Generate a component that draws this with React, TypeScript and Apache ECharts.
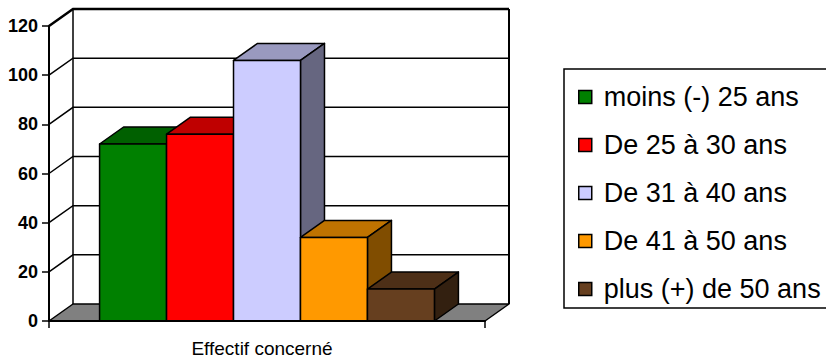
import React, { useEffect, useRef } from "react";
import * as echarts from "echarts";

// Data
const categories = ["Effectif concerné"];
const groups = [
  "moins (-) 25 ans",
  "De 25 à 30 ans",
  "De 31 à 40 ans",
  "De 41 à 50 ans",
  "plus (+) de 50 ans",
];
const counts = [72, 76, 106, 34, 13];
const yTicks = [0, 20, 40, 60, 80, 100, 120];
const frontColors = ["#008000", "#FF0000", "#CCCCFF", "#FF9900", "#663F1F"];

// Styling constants for the pseudo-3D look
const DEPTH_X = 24;
const DEPTH_Y = -17;
const BAR_SPAN = 0.768; // share of the category band filled by the bar cluster
const FONT = "'Liberation Sans', Arial, sans-serif";

function shade(hex: string, f: number): string {
  const n = parseInt(hex.slice(1), 16);
  const r = Math.round(((n >> 16) & 255) * f);
  const g = Math.round(((n >> 8) & 255) * f);
  const b = Math.round((n & 255) * f);
  return "#" + [r, g, b].map((c) => c.toString(16).padStart(2, "0")).join("");
}

function wallRenderItem(_params: any, api: any) {
  const yMax = yTicks[yTicks.length - 1];
  const band = api.size([1, 0])[0];
  const [cx, y0] = api.coord([0, 0]);
  const [, yTop] = api.coord([0, yMax]);
  const xl = cx - band / 2;
  const xr = cx + band / 2;
  const children: any[] = [
    {
      type: "polygon",
      shape: { points: [[xl, yTop], [xl + DEPTH_X, yTop + DEPTH_Y], [xl + DEPTH_X, y0 + DEPTH_Y], [xl, y0]] },
      style: { fill: "#fff", stroke: null },
    },
    {
      type: "rect",
      shape: { x: xl + DEPTH_X, y: yTop + DEPTH_Y, width: xr - xl, height: y0 - yTop },
      style: { fill: "#fff", stroke: null },
    },
    {
      type: "polygon",
      shape: { points: [[xl, y0], [xl + DEPTH_X, y0 + DEPTH_Y], [xr + DEPTH_X, y0 + DEPTH_Y], [xr, y0]] },
      style: { fill: "#808080", stroke: "#000", lineWidth: 1.5, lineJoin: "round" },
    },
  ];
  yTicks.forEach((t) => {
    if (t === 0) return;
    const [, yt] = api.coord([0, t]);
    children.push({
      type: "polyline",
      shape: { points: [[xl, yt], [xl + DEPTH_X, yt + DEPTH_Y], [xr + DEPTH_X, yt + DEPTH_Y]] },
      style: { fill: null, stroke: "#000", lineWidth: t === yMax ? 2.5 : 1.5 },
    });
  });
  children.push(
    {
      type: "line",
      shape: { x1: xl + DEPTH_X, y1: yTop + DEPTH_Y, x2: xl + DEPTH_X, y2: y0 + DEPTH_Y },
      style: { stroke: "#000", lineWidth: 1.5 },
    },
    {
      type: "line",
      shape: { x1: xr + DEPTH_X, y1: yTop + DEPTH_Y, x2: xr + DEPTH_X, y2: y0 + DEPTH_Y },
      style: { stroke: "#000", lineWidth: 2 },
    }
  );
  return { type: "group", children };
}

function makeBarRenderItem(i: number) {
  const front = frontColors[i];
  const top = shade(front, 0.75);
  const side = shade(front, 0.5);
  return (_params: any, api: any) => {
    const v = api.value(1);
    const [cx, yv] = api.coord([api.value(0), v]);
    const [, yb] = api.coord([api.value(0), 0]);
    const band = api.size([1, 0])[0];
    const barW = (band * BAR_SPAN) / groups.length;
    const x0 = cx - (band * BAR_SPAN) / 2 + i * barW;
    const x1 = x0 + barW;
    const edge = { stroke: "#000", lineWidth: 1.5, lineJoin: "round" };
    return {
      type: "group",
      children: [
        {
          type: "polygon",
          shape: { points: [[x0, yv], [x0 + DEPTH_X, yv + DEPTH_Y], [x1 + DEPTH_X, yv + DEPTH_Y], [x1, yv]] },
          style: { fill: top, ...edge },
        },
        {
          type: "polygon",
          shape: { points: [[x1, yv], [x1 + DEPTH_X, yv + DEPTH_Y], [x1 + DEPTH_X, yb + DEPTH_Y], [x1, yb]] },
          style: { fill: side, ...edge },
        },
        {
          type: "rect",
          shape: { x: x0, y: yv, width: barW, height: yb - yv },
          style: { fill: front, ...edge },
        },
      ],
    };
  };
}

export default function App() {
  const ref = useRef<HTMLDivElement>(null);

  useEffect(() => {
    if (!ref.current) return;
    const chart = echarts.init(ref.current, undefined, { renderer: "svg" });

    const barSeries = groups.map((name, i) => ({
      type: "custom",
      name,
      coordinateSystem: "cartesian2d",
      clip: false,
      z: 3,
      itemStyle: { color: frontColors[i] },
      data: [[0, counts[i]]],
      renderItem: makeBarRenderItem(i),
    }));

    chart.setOption({
      animation: false,
      backgroundColor: "#fff",
      grid: { left: 49, right: 341, top: 26, bottom: 41, containLabel: false },
      // legend frame, running past the right edge of the canvas
      graphic: [
        {
          type: "rect",
          silent: true,
          z: 0,
          shape: { x: 564, y: 69, width: 300, height: 239 },
          style: { fill: "#fff", stroke: "#000", lineWidth: 1.5 },
        },
      ],
      xAxis: {
        type: "category",
        data: categories,
        z: 5,
        axisLine: { show: true, lineStyle: { color: "#000", width: 2 } },
        axisTick: { show: true, length: 7, lineStyle: { color: "#000", width: 1.5 } },
        axisLabel: {
          margin: 18,
          fontSize: 19,
          color: "#000",
          fontFamily: FONT,
          padding: [0, 10, 0, 0],
        },
        splitLine: { show: false },
      },
      yAxis: {
        type: "value",
        min: 0,
        max: 120,
        interval: 20,
        z: 5,
        axisLine: { show: true, lineStyle: { color: "#000", width: 2 } },
        axisTick: { show: true, length: 7, lineStyle: { color: "#000", width: 1.5 } },
        axisLabel: { margin: 11, fontSize: 18, fontWeight: "bold", color: "#000", fontFamily: FONT },
        splitLine: { show: false },
      },
      legend: {
        data: groups,
        orient: "vertical",
        left: 564,
        top: 69,
        padding: [14.5, 10, 6, 14],
        itemGap: 21,
        itemWidth: 13,
        itemHeight: 13,
        icon: "rect",
        selectedMode: false,
        itemStyle: { borderColor: "#000", borderWidth: 1.5 },
        borderWidth: 0,
        z: 4,
        textStyle: {
          fontFamily: FONT,
          fontSize: 27,
          lineHeight: 27,
          color: "#000",
          padding: [0, 0, 0, 7],
        },
      },
      series: [
        {
          type: "custom",
          name: "wall",
          coordinateSystem: "cartesian2d",
          clip: false,
          silent: true,
          z: 1,
          data: [[0, 0]],
          renderItem: wallRenderItem,
        },
        ...barSeries,
      ],
    });

    return () => chart.dispose();
  }, []);

  return (
    <div
      ref={ref}
      style={{ position: "fixed", left: 0, top: 0, width: 826, height: 362, background: "#fff" }}
    />
  );
}
